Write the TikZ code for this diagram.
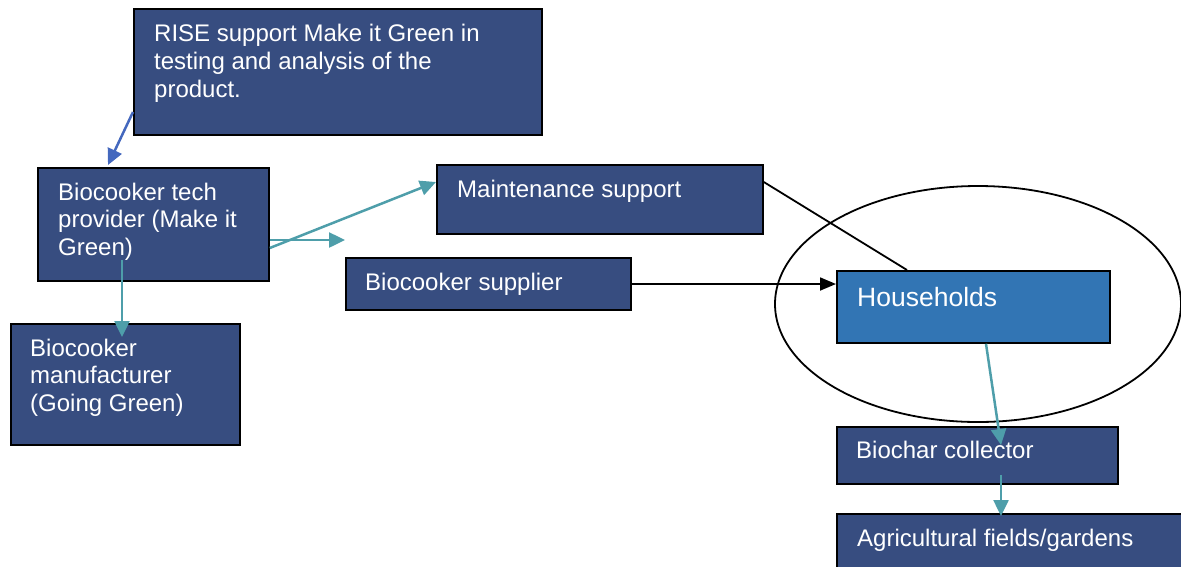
\documentclass[tikz,border=0pt]{standalone}
\usepackage{fontspec}
\setmainfont{Liberation Sans}
\usetikzlibrary{shapes.geometric,arrows.meta,calc}
\definecolor{boxblue}{RGB}{55,77,128}
\definecolor{hhblue}{RGB}{50,117,180}
\definecolor{tealline}{RGB}{78,158,170}
\definecolor{arblue}{RGB}{68,104,190}
\begin{document}
\begin{tikzpicture}[x=1pt,y=-1pt,
  box/.style={draw=black,line width=1.8pt,fill=boxblue,inner sep=0pt,anchor=north west},
  txt/.style={text=white,inner sep=0pt,anchor=north west,align=left,font=\fontsize{24}{27.6}\selectfont},
  tealarrow/.style={draw=tealline,line width=2.5pt,-{Triangle[length=16pt,width=15pt]}},
  blackarrow/.style={draw=black,line width=1.8pt,-{Triangle[length=16pt,width=13pt]}},
  bluearrow/.style={draw=arblue,line width=2.5pt,-{Triangle[length=16pt,width=15pt]}},
  plainline/.style={draw=black,line width=1.8pt}]
\useasboundingbox (0,0) rectangle (1181,566);
\clip (0,0) rectangle (1181,566);
% ellipse
\node[draw=black,line width=1.8pt,ellipse,minimum width=406pt,minimum height=236pt,inner sep=0pt] (ell) at (978,304) {};
% boxes
\node[box,minimum width=408pt,minimum height=126pt] (rise) at (133,8) {};
\node[box,minimum width=231pt,minimum height=113pt] (tech) at (37,167) {};
\node[box,minimum width=229pt,minimum height=121pt] (manu) at (10,323) {};
\node[box,minimum width=326pt,minimum height=69pt] (maint) at (436,164) {};
\node[box,minimum width=285pt,minimum height=52pt] (sup) at (345,257) {};
\node[box,fill=hhblue,minimum width=273pt,minimum height=72pt] (hh) at (836,270) {};
\node[box,minimum width=281pt,minimum height=57pt] (bc) at (836,426) {};
\node[box,minimum width=380pt,minimum height=80pt] (agri) at (836,513) {};
% texts
\node[txt] (risetxt) at (154,24.3) {RISE support Make it Green in\\testing and analysis of the\\product.};
\node[txt] (techtxt) at (58,182.8) {Biocooker tech\\provider (Make it\\Green)};
\node[txt] (manutxt) at (30,338.8) {Biocooker\\manufacturer\\(Going Green)};
\node[txt] (mainttxt) at (457,180.3) {Maintenance support};
\node[txt] (suptxt) at (365,272.8) {Biocooker supplier};
\node[txt,font=\fontsize{26.5}{30}\selectfont] (hhtxt) at (857,287.5) {Households};
\node[txt] (bctxt) at (856,440.8) {Biochar collector};
\node[txt] (agritxt) at (857,529.3) {Agricultural fields/gardens};
% connectors
\coordinate (free) at (345,240);
\draw[bluearrow] (rise.west |- 0,112) -- (108,165);
\draw[tealarrow] (tech.east |- 0,248) -- (maint.west |- 0,182);
\draw[tealarrow] (tech.east |- 0,240) -- (free);
\draw[tealarrow] ($(tech.south west)+(85,-22)$) -- ($(manu.north west)+(112,14)$);
\draw[plainline] (maint.east |- 0,182) -- (hh.north -| 907,0);
\draw[blackarrow] (sup.east |- 0,284) -- (hh.west |- 0,284);
\draw[tealarrow] (hh.south -| 986,0) -- ($(bc.north west)+(165,19)$);
\draw[tealarrow] ($(bc.south west)+(165,-10)$) -- ($(agri.north west)+(165,3)$);
\end{tikzpicture}
\end{document}
